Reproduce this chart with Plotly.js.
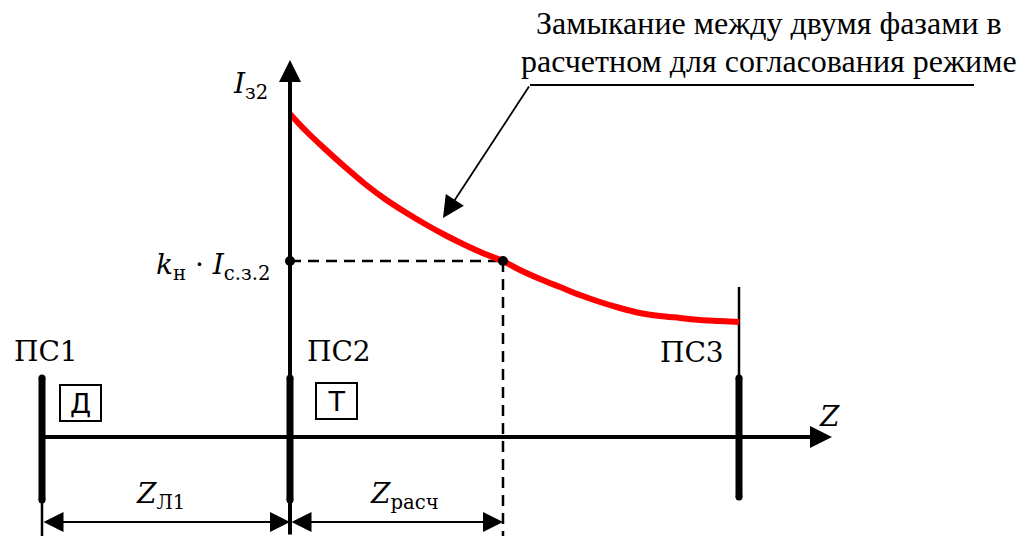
<!DOCTYPE html>
<html>
<head>
<meta charset="utf-8">
<script src="https://cdn.plot.ly/plotly-3.0.1.min.js"></script>
</head>
<body style="margin:0;background:#fff">
<div id="chart" style="width:1023px;height:536px"></div>
<script>
// ---- data (Z along the line, I = current) ----
const substations = ['ПС1', 'ПС2', 'ПС3'];
const subZ = [-248, 0, 449];
const devices = ['Д', 'Т'];
const curveZ = [0, 15, 35, 55, 75, 95, 115, 135, 155, 175, 195, 213, 230, 250, 270, 290, 310, 330, 350, 370, 390, 410, 430, 449];
const curveI = [323, 307, 288, 270, 253, 238, 225, 213, 202, 192, 183, 176, 167, 158, 150, 142, 135, 129, 124, 121, 119, 117, 116, 115];
const zCalc = 213;      // Z расч
const iSet = 176;       // kн · Iс.з.2
const caption = ['Замыкание между двумя фазами в', 'расчетном для согласования режиме'];

// ---- layout constants ----
const busTop = 59, busBottom = -63, bottom = -99, dimY = -85;
const XR = [-290, 733], YR = [bottom, 437];
const px = z => (z - XR[0]) / (XR[1] - XR[0]);
const py = v => (v - YR[0]) / (YR[1] - YR[0]);

const traces = [];
subZ.forEach((z, i) => {
  const b = i === 2 ? -60 : busBottom;
  traces.push({x: [z, z], y: [busTop, b], mode: 'lines+markers', line: {color: '#000', width: 7},
    marker: {color: '#000', size: 7}, hoverinfo: 'skip'});
});
traces.push({x: [subZ[0], subZ[0]], y: [busBottom, bottom], mode: 'lines', line: {color: '#000', width: 2.5}, hoverinfo: 'skip'});
traces.push({x: [subZ[2], subZ[2]], y: [busTop, 150], mode: 'lines', line: {color: '#000', width: 2.5}, hoverinfo: 'skip'});
traces.push({x: [0, zCalc], y: [iSet, iSet], mode: 'lines', line: {color: '#000', width: 2.5, dash: '11px,7px'}, hoverinfo: 'skip'});
traces.push({x: [zCalc, zCalc], y: [iSet, bottom], mode: 'lines', line: {color: '#000', width: 2.5, dash: '11px,7px'}, hoverinfo: 'skip'});
traces.push({x: curveZ, y: curveI, mode: 'lines', line: {color: '#ff0000', width: 6, shape: 'spline'}, hoverinfo: 'skip'});
traces.push({x: [0, zCalc], y: [iSet, iSet], mode: 'markers', marker: {color: '#000', size: 10}, hoverinfo: 'skip'});

function arrow(x0, y0, x1, y1, w, size, head, both) {
  return {x: x1, y: y1, ax: x0, ay: y0, xref: 'x', yref: 'y', axref: 'x', ayref: 'y', text: '',
    showarrow: true, arrowhead: head, arrowsize: size, arrowwidth: w, arrowcolor: '#000',
    arrowside: both ? 'end+start' : 'end', startarrowhead: head, startarrowsize: size, standoff: 0, startstandoff: 0};
}
function label(text, x, y, xa, ya, family, size) {
  return {x: px(x), y: py(y), xref: 'paper', yref: 'paper', text: text, showarrow: false, xanchor: xa, yanchor: ya,
    font: {family: family, size: size}};
}

const SER = 'DejaVu Serif', TNR = 'Liberation Serif';
const ann = [
  label(substations[0], -278, 86, 'left', 'middle', SER, 28),
  label(substations[1], 15, 86, 'left', 'middle', SER, 28),
  label(substations[2], 436, 85, 'right', 'middle', SER, 28),
  label('<i>Z</i>', 539, 21, 'center', 'middle', SER, 28),
  label('<i>I</i><sub>з2</sub>', -40, 352, 'center', 'middle', SER, 28),
  label('<i>k</i><sub>н</sub> · <i>I</i><sub>с.з.2</sub>', -18, 171, 'right', 'middle', SER, 28),
  label('<i>Z</i><sub>Л1</sub>', -130, -58, 'center', 'middle', SER, 28),
  label('<i>Z</i><sub>расч</sub>', 114, -58, 'center', 'middle', SER, 28),
  label(caption[0], 479, 414, 'center', 'middle', TNR, 32),
  label(caption[1], 479, 376, 'center', 'middle', TNR, 32)
];
[[-210, 34.5], [46, 36.5]].forEach((p, i) => {
  const a = label(devices[i], p[0], p[1], 'center', 'middle', 'DejaVu Sans', 27);
  Object.assign(a, {bordercolor: '#000', borderwidth: 2, borderpad: 0, width: 39, height: 34, bgcolor: '#fff'});
  ann.push(a);
});
ann.push(
  arrow(subZ[0], 0, 542, 0, 4, 1.1, 2),
  arrow(0, bottom, 0, 377, 4, 1.1, 2),
  arrow(subZ[0], dimY, 0, dimY, 2, 2, 2, true),
  arrow(0, dimY, zCalc, dimY, 2, 2, 2, true),
  arrow(240, 352, 153, 219, 1.8, 2.4, 2)
);

const layout = {
  width: 1023, height: 536, margin: {l: 0, r: 0, t: 0, b: 0},
  font: {family: TNR, color: '#000'},
  paper_bgcolor: '#fff', plot_bgcolor: '#fff', showlegend: false,
  xaxis: {range: XR, visible: false, fixedrange: true},
  yaxis: {range: YR, visible: false, fixedrange: true},
  shapes: [
    {type: 'line', xref: 'x', yref: 'y', x0: 684, x1: 240, y0: 352, y1: 352, line: {color: '#000', width: 1.8}}
  ],
  annotations: ann
};
function draw() { Plotly.newPlot('chart', traces, layout, {displayModeBar: false}); }
if (document.fonts && document.fonts.load) {
  Promise.all([
    document.fonts.load('28px "DejaVu Serif"'), document.fonts.load('italic 28px "DejaVu Serif"'),
    document.fonts.load('32px "Liberation Serif"'), document.fonts.load('27px "DejaVu Sans"')
  ]).then(draw, draw);
} else { draw(); }
</script>
</body>
</html>
